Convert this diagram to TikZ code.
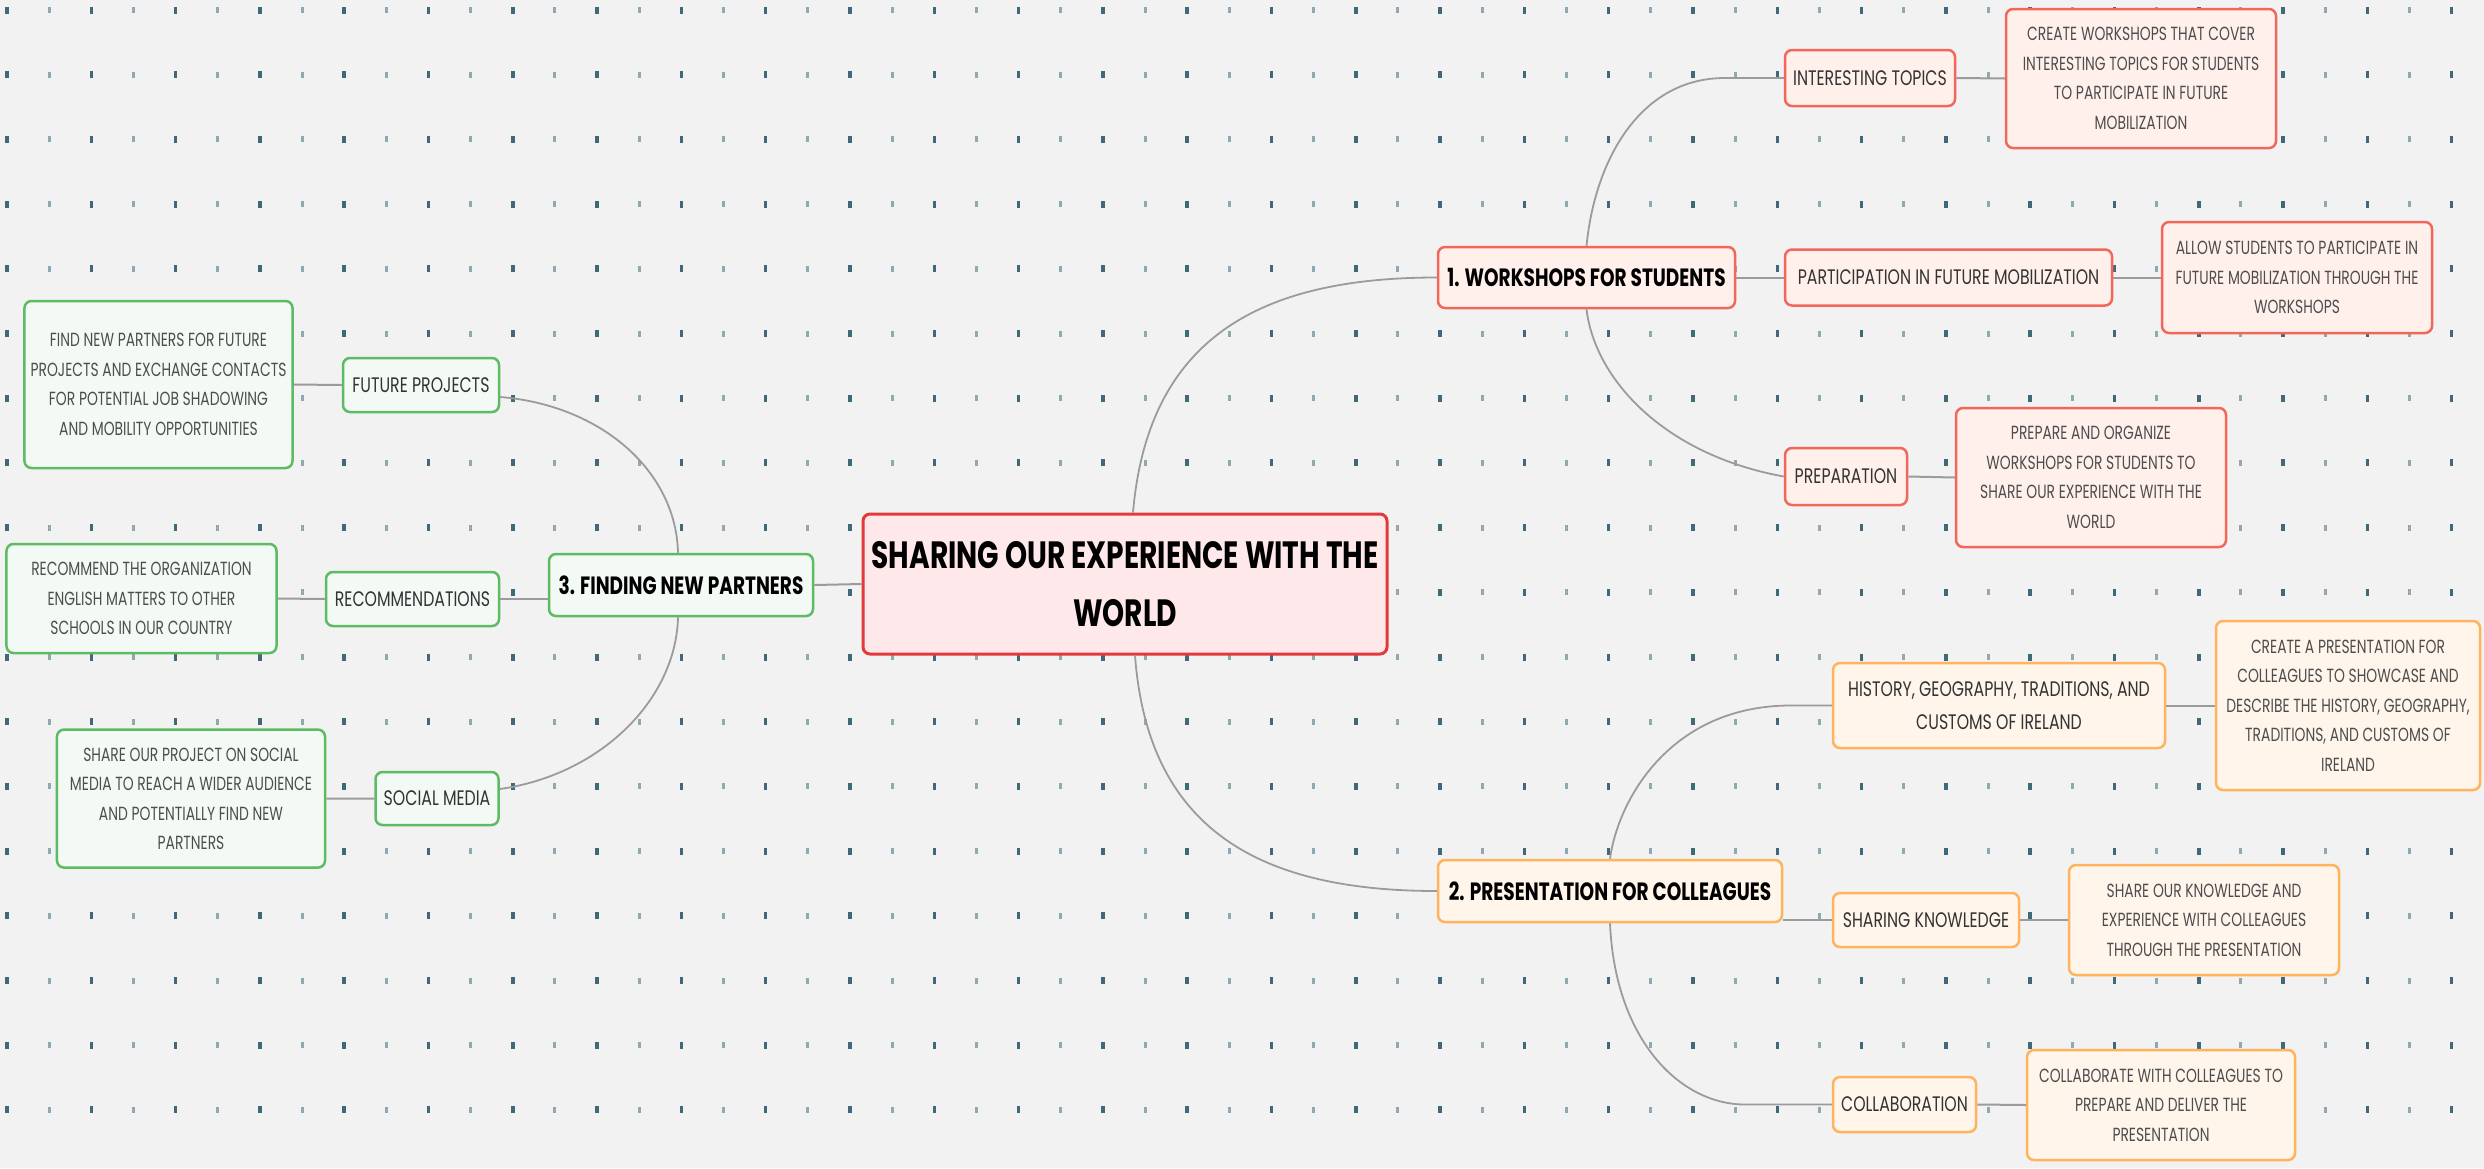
\documentclass[tikz,border=0pt]{standalone}
\usepackage{fontspec}
\newfontfamily\fdesc[FakeStretch=0.73]{Poppins}
\newfontfamily\fchild[FakeStretch=0.75]{Poppins}
\newfontfamily\fbranch[FakeStretch=0.74]{Poppins}
\newfontfamily\fcentral[FakeStretch=0.74]{Poppins}
\definecolor{bg}{HTML}{F2F2F2}
\definecolor{dotd}{HTML}{3F6878}
\definecolor{dotl}{HTML}{8FA9B3}
\definecolor{redb}{HTML}{F2675A}
\definecolor{redf}{HTML}{FFF0EC}
\definecolor{centb}{HTML}{E2393B}
\definecolor{centf}{HTML}{FFE8E9}
\definecolor{orb}{HTML}{FFB35C}
\definecolor{orf}{HTML}{FFF5EB}
\definecolor{grb}{HTML}{5DBB63}
\definecolor{grf}{HTML}{F3FAF5}
\definecolor{conn}{HTML}{9B9B9B}
\definecolor{desctext}{HTML}{4D4D4D}
\definecolor{childtext}{HTML}{333333}
\tikzset{
  box/.style={rounded corners=7bp, inner sep=0pt, align=center, line width=2.5bp},
  sz/.style n args={2}{minimum width=#1bp, minimum height=#2bp},
  redbox/.style={box, draw=redb, fill=redf},
  orbox/.style={box, draw=orb, fill=orf},
  grbox/.style={box, draw=grb, fill=grf},
  centbox/.style={box, draw=centb, fill=centf, line width=3bp},
  desc/.style={font=\fdesc\fontsize{19bp}{29.5bp}\selectfont, text=desctext},
  child/.style={font=\fchild\fontsize{21bp}{33bp}\selectfont, text=childtext},
  branch/.style={font=\fbranch\bfseries\fontsize{25bp}{30bp}\selectfont, text=black},
  central/.style={font=\fcentral\bfseries\fontsize{38bp}{58bp}\selectfont, text=black},
  link/.style={draw=conn, line width=2bp},
  curvelink/.style={draw=conn, line width=1.8bp},
}
\begin{document}
\begin{tikzpicture}[x=1bp, y=-1bp]
\path[use as bounding box, fill=bg] (0,0) rectangle (2484,1168);
% dot grid
\foreach \i in {0,2,...,58}{
  \foreach \j in {0,...,17}{
    \fill[dotd] ({7+42.15*\i-1.75},{10+64.7*\j-3.5}) rectangle ++(3.5,7);
  }
}
\foreach \i in {1,3,...,57}{
  \foreach \j in {0,...,17}{
    \fill[dotl] ({7+42.15*\i-1.5},{10+64.7*\j-3}) rectangle ++(3,6);
  }
}
% central
\node[centbox, central, sz={524}{140}] (cen) at (1125,584) {SHARING OUR EXPERIENCE WITH THE\\WORLD};
% branch 1
\node[redbox, branch, sz={297}{61}] (ws) at (1586.5,277.5) {1. WORKSHOPS FOR STUDENTS};
\node[redbox, child, sz={170}{56}] (it) at (1870,78) {INTERESTING TOPICS};
\node[redbox, desc, sz={270}{139}] (itd) at (2141,78.5) {CREATE WORKSHOPS THAT COVER\\INTERESTING TOPICS FOR STUDENTS\\TO PARTICIPATE IN FUTURE\\MOBILIZATION};
\node[redbox, child, sz={327}{56}] (pfm) at (1948.5,277.5) {PARTICIPATION IN FUTURE MOBILIZATION};
\node[redbox, desc, sz={270}{111}] (pfmd) at (2297,277.5) {ALLOW STUDENTS TO PARTICIPATE IN\\FUTURE MOBILIZATION THROUGH THE\\WORKSHOPS};
\node[redbox, child, sz={122}{57}] (prep) at (1846,476.5) {PREPARATION};
\node[redbox, desc, sz={270}{139}] (prepd) at (2091,477.5) {PREPARE AND ORGANIZE\\WORKSHOPS FOR STUDENTS TO\\SHARE OUR EXPERIENCE WITH THE\\WORLD};
% branch 2
\node[orbox, branch, sz={344}{62}] (pres) at (1610,891) {2. PRESENTATION FOR COLLEAGUES};
\node[orbox, child, sz={332}{85}] (hist) at (1999,705.5) {HISTORY, GEOGRAPHY, TRADITIONS, AND\\CUSTOMS OF IRELAND};
\node[orbox, desc, sz={264}{169}] (histd) at (2348,705.5) {CREATE A PRESENTATION FOR\\COLLEAGUES TO SHOWCASE AND\\DESCRIBE THE HISTORY, GEOGRAPHY,\\TRADITIONS, AND CUSTOMS OF\\IRELAND};
\node[orbox, child, sz={186}{54}] (sk) at (1926,920) {SHARING KNOWLEDGE};
\node[orbox, desc, sz={270}{110}] (skd) at (2204,920) {SHARE OUR KNOWLEDGE AND\\EXPERIENCE WITH COLLEAGUES\\THROUGH THE PRESENTATION};
\node[orbox, child, sz={143}{55}] (col) at (1904.5,1104.5) {COLLABORATION};
\node[orbox, desc, sz={268}{110}] (cold) at (2161,1105) {COLLABORATE WITH COLLEAGUES TO\\PREPARE AND DELIVER THE\\PRESENTATION};
% branch 3
\node[grbox, branch, sz={264}{62}] (fnp) at (681,585) {3. FINDING NEW PARTNERS};
\node[grbox, child, sz={156}{54}] (fp) at (421,385) {FUTURE PROJECTS};
\node[grbox, desc, sz={268}{167}] (fpd) at (158.5,384.5) {FIND NEW PARTNERS FOR FUTURE\\PROJECTS AND EXCHANGE CONTACTS\\FOR POTENTIAL JOB SHADOWING\\AND MOBILITY OPPORTUNITIES};
\node[grbox, child, sz={173}{54}] (rec) at (412.5,599) {RECOMMENDATIONS};
\node[grbox, desc, sz={270}{109}] (recd) at (141.5,598.5) {RECOMMEND THE ORGANIZATION\\ENGLISH MATTERS TO OTHER\\SCHOOLS IN OUR COUNTRY};
\node[grbox, child, sz={123}{53}] (sm) at (437,798.5) {SOCIAL MEDIA};
\node[grbox, desc, sz={268}{138}] (smd) at (191,798.6) {SHARE OUR PROJECT ON SOCIAL\\MEDIA TO REACH A WIDER AUDIENCE\\AND POTENTIALLY FIND NEW\\PARTNERS};
% connectors
\draw[curvelink] ([xshift=8bp]cen.north) .. controls (1148,338) and (1260,277.5) .. (ws.west);
\draw[curvelink] ([xshift=10bp]cen.south) .. controls (1148,830) and (1260,891) .. (pres.west);
\draw[link] (cen.west) -- (fnp.east);
\draw[curvelink] (ws.north) .. controls (1595,160) and (1640,78) .. (1725,78) -- (it.west);
\draw[link] (ws.east) -- (pfm.west);
\draw[curvelink] (ws.south) .. controls (1595,380) and (1665,455) .. (prep.west);
\draw[link] (it.east) -- (itd.west);
\draw[link] (pfm.east) -- (pfmd.west);
\draw[link] (prep.east) -- (prepd.west);
\draw[curvelink] (pres.north) .. controls (1618,800) and (1670,706) .. (1790,705.5) -- (hist.west);
\draw[link] (pres.east |- sk.west) -- (sk.west);
\draw[curvelink] (pres.south) .. controls (1615,1040) and (1680,1104.5) .. (1745,1104.5) -- (col.west);
\draw[link] (hist.east) -- (histd.west);
\draw[link] (sk.east) -- (skd.west);
\draw[link] (col.east) -- (cold.west);
\draw[curvelink] ([xshift=-3bp]fnp.north) .. controls (676,470) and (600,405) .. ([yshift=-12bp]fp.east);
\draw[link] (fnp.west |- rec.east) -- (rec.east);
\draw[curvelink] ([xshift=-3bp]fnp.south) .. controls (676,700) and (600,775) .. ([yshift=9.5bp]sm.east);
\draw[link] (fp.west) -- (fpd.east);
\draw[link] (rec.west) -- (recd.east);
\draw[link] (sm.west) -- (smd.east);
\end{tikzpicture}
\end{document}
